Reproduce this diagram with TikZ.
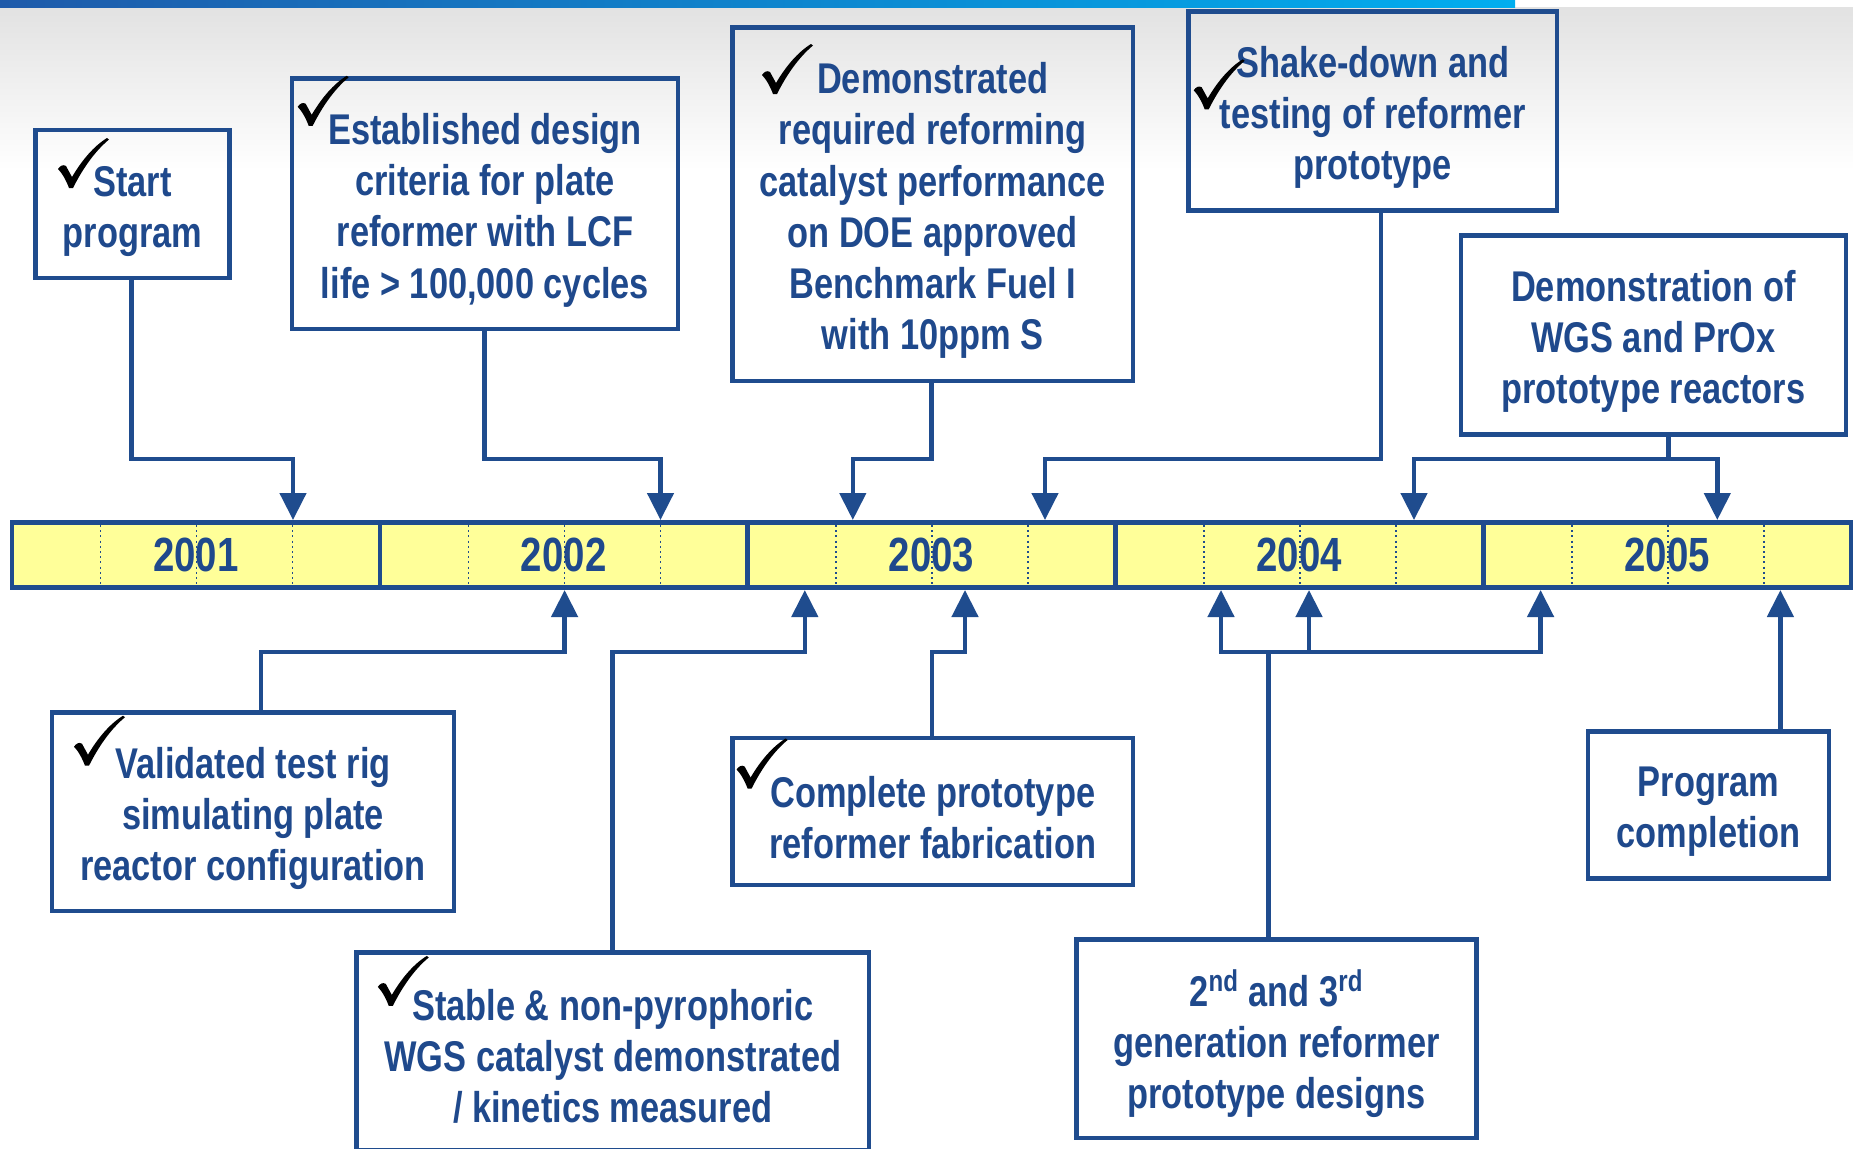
\documentclass[tikz,border=0pt]{standalone}
\usepackage{fontspec}
\newfontfamily\nar[FakeStretch=0.8]{Liberation Sans}
\usetikzlibrary{arrows.meta}
\definecolor{mblue}{RGB}{31,76,142}
\definecolor{tblue}{RGB}{31,73,140}
\definecolor{ybar}{RGB}{255,255,153}
\definecolor{stripL}{RGB}{30,90,170}
\definecolor{stripR}{RGB}{0,174,239}
\definecolor{bgrey}{RGB}{226,226,226}
\begin{document}
\begin{tikzpicture}[x=0.5pt,y=-0.5pt,
  box/.style={draw=mblue, line width=2.3pt, inner sep=0pt},
  btext/.style={inner sep=0pt, align=center, text=tblue,
    font=\nar\bfseries\fontsize{21.5}{25.6}\selectfont},
  yearbox/.style={draw=mblue, fill=ybar, line width=2.3pt, inner sep=0pt,
    minimum width=183.9pt, minimum height=32.5pt},
  yeartext/.style={text=tblue, font=\nar\bfseries\fontsize{24}{28}\selectfont},
  ln/.style={draw=mblue, line width=2.3pt},
  conn/.style={ln, -{Triangle[length=13.5pt,width=13pt]}},
  qline/.style={draw=mblue, line width=0.8pt, dash pattern=on 1pt off 1.6pt},
  chk/.pic={\fill[black] (0,31) .. controls (2,28) and (5,26) .. (8,28) -- (14,39)
     .. controls (24,22) and (36,8) .. (49,0) -- (51,1.5)
     .. controls (36,14) and (24,32) .. (15,50) -- (11,50)
     .. controls (8,42) and (4,35) .. (0,31) -- cycle;}
]
\useasboundingbox (0,0) rectangle (1853,1148);
% background
\fill[white] (0,0) rectangle (1853,1148);
\shade[top color=bgrey, bottom color=white] (0,7) rectangle (1853,170);
\shade[left color=stripL, right color=stripR] (0,0) rectangle (1515,7);

% timeline
\node[yearbox] (y1) at (195.9,555) {};
\node[yearbox] (y2) at (563.7,555) {};
\node[yearbox] (y3) at (931.5,555) {};
\node[yearbox] (y4) at (1299.3,555) {};
\node[yearbox] (y5) at (1667.1,555) {};
\foreach \s in {12,379.8,747.6,1115.4,1483.2}{
  \foreach \d in {88.5,184.5,280.5}{
    \draw[qline] (\s+\d,525) -- (\s+\d,585);
  }
}
\node[yeartext] (l1) at (y1) {2001};
\node[yeartext] (l2) at (y2) {2002};
\node[yeartext] (l3) at (y3) {2003};
\node[yeartext] (l4) at (y4) {2004};
\node[yeartext] (l5) at (y5) {2005};

% boxes above
\node[box, minimum width=97pt, minimum height=74pt] (start) at (132.5,204) {};
\node[box, minimum width=193pt, minimum height=125.25pt] (estab) at (485,203.75) {};
\node[box, minimum width=200.25pt, minimum height=176.6pt] (demo) at (932.75,204.2) {};
\node[box, minimum width=184.25pt, minimum height=99.5pt] (shake) at (1372.75,111) {};
\node[box, minimum width=192.5pt, minimum height=99.55pt] (wgs) at (1653.5,335) {};
% boxes below
\node[box, minimum width=201pt, minimum height=99.15pt] (valid) at (253,811.85) {};
\node[box, minimum width=256.25pt, minimum height=98.7pt] (stable) at (612.75,1051.3) {};
\node[box, minimum width=200.25pt, minimum height=73.5pt] (complete) at (932.75,811.5) {};
\node[box, minimum width=200pt, minimum height=99.3pt] (gen) at (1276.5,1038.7) {};
\node[box, minimum width=120.5pt, minimum height=73.5pt] (prog) at (1708.5,805) {};

% box texts
\node[btext] (startT) at ([yshift=-3.6pt]start.center) {Start\\program};
\node[btext] (estabT) at ([yshift=-3.2pt]estab.center)
  {Established design\\criteria for plate\\reformer with LCF\\life > 100,000 cycles};
\node[btext] (demoT) at ([yshift=-3.2pt]demo.center)
  {Demonstrated\\required reforming\\catalyst performance\\on DOE approved\\Benchmark Fuel I\\with 10ppm S};
\node[btext] (shakeT) at ([yshift=-3.2pt]shake.center)
  {Shake-down and\\testing of reformer\\prototype};
\node[btext] (wgsT) at ([yshift=-3.2pt]wgs.center)
  {Demonstration of\\WGS and PrOx\\prototype reactors};
\node[btext] (validT) at ([yshift=-3.2pt]valid.center)
  {Validated test rig\\simulating plate\\reactor configuration};
\node[btext] (stableT) at ([yshift=-2.6pt]stable.center)
  {Stable \& non-pyrophoric\\WGS catalyst demonstrated\\/ kinetics measured};
\node[btext] (completeT) at ([yshift=-3.2pt]complete.center)
  {Complete prototype\\reformer fabrication};
\node[btext] (genT) at ([yshift=-2.6pt]gen.center)
  {2\textsuperscript{nd} and 3\textsuperscript{rd}\\generation reformer\\prototype designs};
\node[btext] (progT) at ([yshift=-3.2pt]prog.center)
  {Program\\completion};

% check marks
\pic at (58,138) {chk};
\pic at (297.7,75.8) {chk};
\pic at (762,44) {chk};
\pic at (1193.7,59.3) {chk};
\pic at (74,715.7) {chk};
\pic at (377.8,955.9) {chk};
\pic at (736.6,738.5) {chk};

% connector coordinates
\coordinate (a1) at (293,520);
\coordinate (a2) at (660.5,520);
\coordinate (a3) at (852.8,520);
\coordinate (a4) at (1045,520);
\coordinate (a5) at (1414,520);
\coordinate (a6) at (1717.3,520);
\coordinate (b1) at (564.6,590);
\coordinate (b2) at (804.8,590);
\coordinate (b3) at (965,590);
\coordinate (b4) at (1221,590);
\coordinate (b5) at (1309,590);
\coordinate (b6) at (1540.6,590);
\coordinate (b7) at (1780.4,590);
\coordinate (t1) at (131.5,459);
\coordinate (t2) at (484.5,459);
\coordinate (t3) at (931.5,459);
\coordinate (t4) at (1381,459);
\coordinate (t5) at (1668.5,459);
\coordinate (u1) at (261,652);
\coordinate (u2) at (612.7,652);
\coordinate (u3) at (932,652);
\coordinate (u4) at (1268.7,652);

% connectors above
\draw[conn] (t1 |- start.south) -- (t1) -| (a1);
\draw[conn] (t2 |- estab.south) -- (t2) -| (a2);
\draw[conn] (t3 |- demo.south) -- (t3) -| (a3);
\draw[conn] (t4 |- shake.south) -- (t4) -| (a4);
\draw[ln] (t5 |- wgs.south) -- (t5);
\draw[conn] (t5) -| (a5);
\draw[conn] (t5) -| (a6);
% connectors below
\draw[conn] (u1 |- valid.north) -- (u1) -| (b1);
\draw[conn] (u2 |- stable.north) -- (u2) -| (b2);
\draw[conn] (u3 |- complete.north) -- (u3) -| (b3);
\draw[ln] (u4 |- gen.north) -- (u4);
\draw[conn] (u4) -| (b4);
\draw[conn] (u4) -| (b6);
\draw[conn] (b5 |- u4) -- (b5);
\draw[conn] (b7 |- prog.north) -- (b7);
\end{tikzpicture}
\end{document}
